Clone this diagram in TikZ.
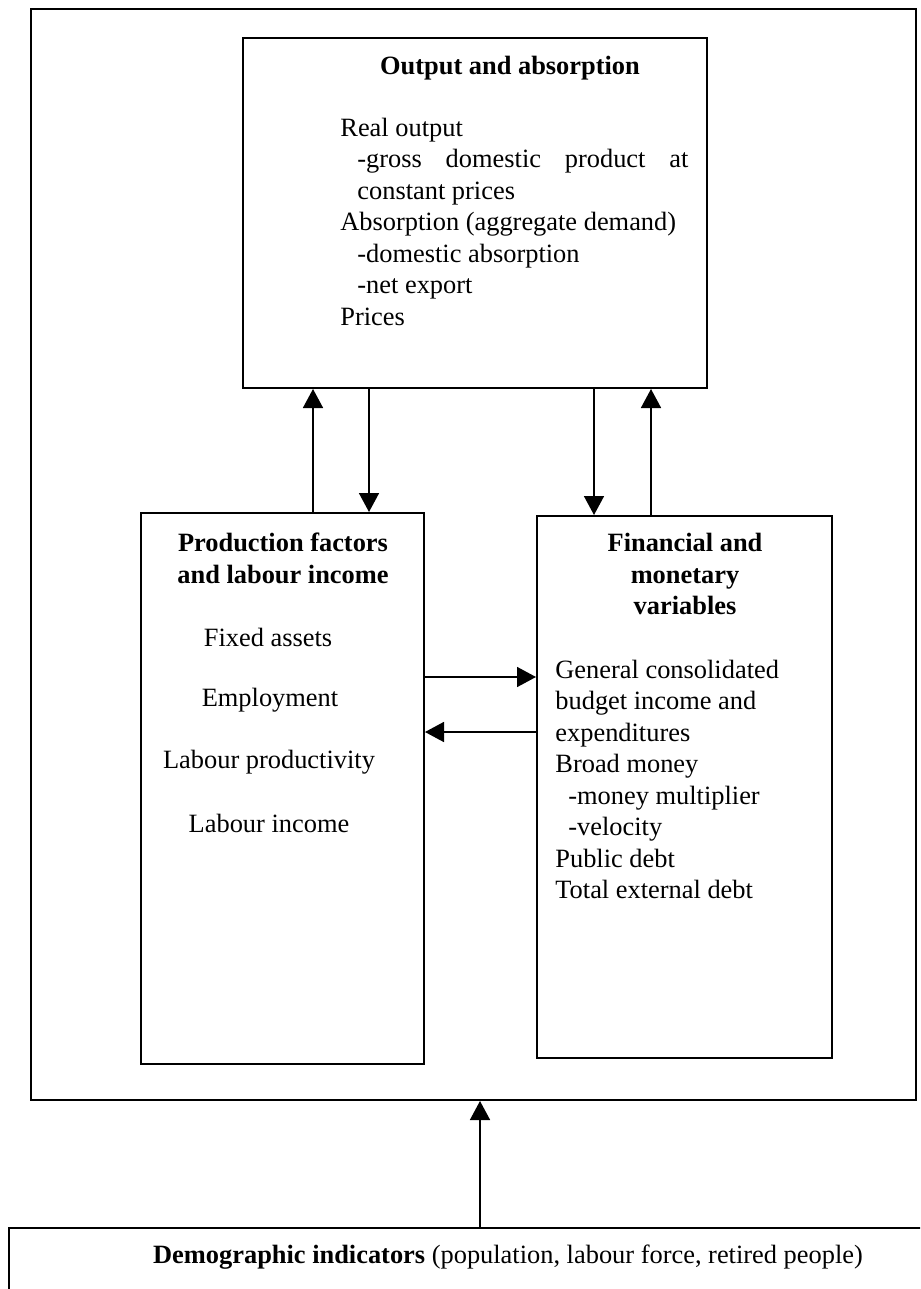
\documentclass[tikz,border=0pt]{standalone}
\usepackage{fontspec}
\setmainfont{Liberation Serif}
\usetikzlibrary{arrows.meta}

\begin{document}
\begin{tikzpicture}[x=0.5pt,y=-0.5pt,
        box/.style={draw,line width=1pt,inner sep=0pt},
        txt/.style={font=\fontsize{13.2}{15.75}\selectfont,inner sep=0pt},
        arr/.style={line width=0.8pt,-{Triangle[length=9.5pt,width=10pt]}}]
            \useasboundingbox (0,0) rectangle (920,1289);
            \clip (0,0) rectangle (920,1289);

            % draw boxes
            \node[box,minimum width=442.5pt,minimum height=545.5pt] (frame) at (473.5,554.5) {};
            \node[box,minimum width=232pt,minimum height=175pt] (output) at (475,213) {};
            \node[box,minimum width=141.5pt,minimum height=275.5pt] (factors) at (282.5,788.5) {};
            \node[box,minimum width=147.5pt,minimum height=271pt] (finance) at (684.5,787) {};
            \node[box,minimum width=480pt,minimum height=80pt] (demo) at (489,1308) {};

            % place box texts
            \node[txt] (outtitle) at (510,68) {\textbf{Output and absorption}};
            \node[txt,anchor=north west] (outlist) at (340,114) {\begin{tabular}{@{}l@{}}
                    Real output \\
                    \hspace*{8.5pt}\makebox[165.5pt][s]{-gross domestic product at} \\
                    \hspace*{8.5pt}constant prices \\
                    Absorption (aggregate demand) \\
                    \hspace*{8.5pt}-domestic absorption \\
                    \hspace*{8.5pt}-net export \\
                    Prices
                \end{tabular}};

            \node[txt] (factitle) at (283,561) {\bfseries\begin{tabular}{@{}c@{}}
                    Production factors \\ and labour income
                \end{tabular}};
            \node[txt] (assets) at (268,637) {Fixed assets};
            \node[txt] (employ) at (270,700) {Employment};
            \node[txt] (product) at (269,762) {Labour productivity};
            \node[txt] (income) at (269,823) {Labour income};

            \node[txt] (fintitle) at (685,577) {\bfseries\begin{tabular}{@{}c@{}}
                    Financial and \\ monetary \\ variables
                \end{tabular}};
            \node[txt,anchor=north west] (finlist) at (555,656) {\begin{tabular}{@{}l@{}}
                    General consolidated \\
                    budget income and \\
                    expenditures \\
                    Broad money \\
                    \hspace*{6.5pt}-money multiplier \\
                    \hspace*{6.5pt}-velocity \\
                    Public debt \\
                    Total external debt
                \end{tabular}};

            \node[txt] (demotext) at (508,1257) {\textbf{Demographic indicators} (population, labour force, retired people)};

            % draw arrows
            \draw[arr] (313,0 |- factors.north) -- (313,0 |- output.south);
            \draw[arr] (369,0 |- output.south) -- (369,0 |- factors.north);
            \draw[arr] (594,0 |- output.south) -- (594,0 |- finance.north);
            \draw[arr] (651,0 |- finance.north) -- (651,0 |- output.south);
            \draw[arr] (factors.east |- 0,677) -- (finance.west |- 0,677);
            \draw[arr] (finance.west |- 0,732) -- (factors.east |- 0,732);
            \draw[arr] (480,0 |- demo.north) -- (480,0 |- frame.south);
        \end{tikzpicture}
\end{document}
